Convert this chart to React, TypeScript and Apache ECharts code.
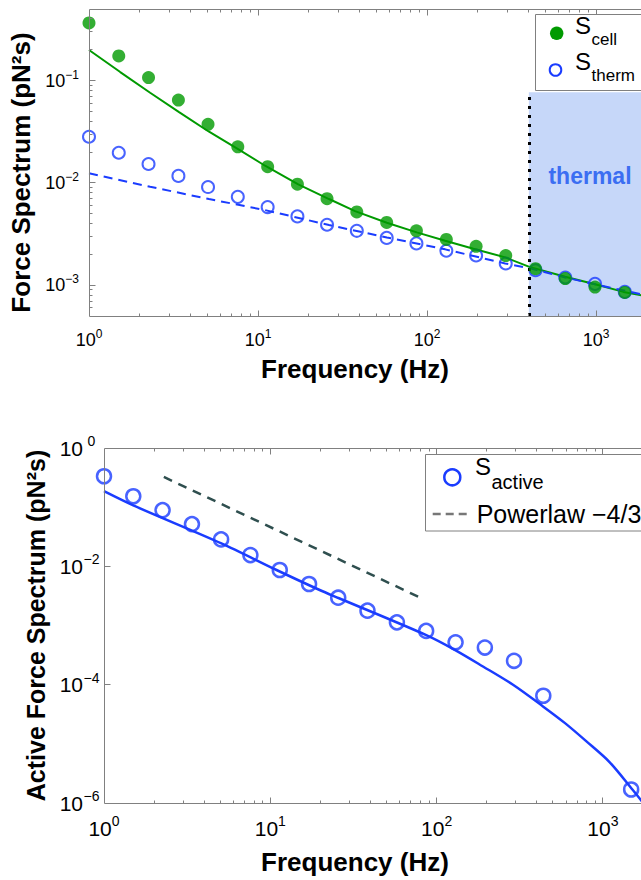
import React, { useEffect, useRef } from 'react';
import * as echarts from 'echarts';

const FONT = '"Liberation Sans", Arial, Helvetica, sans-serif';
const GREEN = '#009a00';
const BLUE = '#1a3cff';
const AXIS = '#808080';

// ---------- top panel data ----------
const freqTop = [1, 1.5, 2.25, 3.38, 5.06, 7.59, 11.4, 17.1, 25.6, 38.4, 57.7, 86.5, 130, 195, 292, 438, 657, 985, 1478];
const sCell = [0.365, 0.174, 0.107, 0.0645, 0.0373, 0.0225, 0.0144, 0.0097, 0.007, 0.0052, 0.0041, 0.0034, 0.0028, 0.0024, 0.00195, 0.00145, 0.00116, 0.00096, 0.00085];
const sTherm = [0.0282, 0.0197, 0.0153, 0.0117, 0.0091, 0.0073, 0.0058, 0.0047, 0.0039, 0.0034, 0.0029, 0.00256, 0.00217, 0.00195, 0.00163, 0.0014, 0.00119, 0.00103, 0.00086];
const fitCellFreq = [1, 1.53, 2.3, 3.41, 5.13, 7.62, 11.0, 17.3, 26.3, 37.5, 57.8, 86.9, 128, 188, 290, 403, 656, 986, 1452, 1820, 2000];
const fitCellVal = [0.199, 0.121, 0.076, 0.0492, 0.0316, 0.0214, 0.0147, 0.00966, 0.00695, 0.0053, 0.00407, 0.00328, 0.00272, 0.00227, 0.00187, 0.00151, 0.00121, 0.00102, 0.00086, 0.0008, 0.00078];
const fitThermFreq = [1, 2.3, 5.13, 11.0, 26.3, 57.8, 128, 290, 407, 656, 986, 1820, 2000];
const fitThermVal = [0.0124, 0.00916, 0.00695, 0.00542, 0.00387, 0.00293, 0.00224, 0.00163, 0.00146, 0.00119, 0.00102, 0.00082, 0.00078];
const thermalFrom = 400;
const thermalTop = 0.077;

// ---------- bottom panel data ----------
const freqActive = [1, 1.5, 2.25, 3.38, 5.06, 7.59, 11.4, 17.1, 25.6, 38.4, 57.7, 86.5, 130, 195, 292, 438, 1478];
const sActive = [0.333, 0.153, 0.089, 0.0517, 0.0285, 0.0155, 0.00867, 0.00503, 0.00295, 0.00178, 0.00113, 0.00081, 0.00052, 0.000424, 0.000253, 6.5e-5, 1.69e-6];
const fitActiveFreq = [1, 1.5, 5.08, 10.9, 19.8, 25.9, 86, 128.5, 190, 288, 436, 589, 796, 1099, 1504, 1783, 2000];
const fitActiveVal = [0.186, 0.107, 0.0244, 0.00867, 0.00398, 0.00289, 0.000694, 0.000388, 0.000203, 9.95e-5, 4.29e-5, 2.26e-5, 1.1e-5, 4.88e-6, 1.69e-6, 9.3e-7, 6e-7];
const powerFreq = [2.29, 82.8];
const powerVal = [0.324, 0.00281];

// ---------- axes ----------
const xRange = [1, 2000];
const topYRange = [5e-4, 0.5];
const botYRange = [1e-6, 1];
const xMajor = [10, 100, 1000];
const xMinor = [2, 3, 4, 5, 6, 7, 8, 9, 20, 30, 40, 50, 60, 70, 80, 90, 200, 300, 400, 500, 600, 700, 800, 900];
const topYMajor = [1e-3, 1e-2, 1e-1];
const topYMinor = [6e-4, 7e-4, 8e-4, 9e-4, 2e-3, 3e-3, 4e-3, 5e-3, 6e-3, 7e-3, 8e-3, 9e-3, 2e-2, 3e-2, 4e-2, 5e-2, 6e-2, 7e-2, 8e-2, 9e-2, 0.2, 0.3, 0.4];
const botYMajor = [1e-4, 1e-2];
const botYMinor: number[] = [];

const pairs = (xs: number[], ys: number[]) => xs.map((x, i) => [x, ys[i]]);

const supText = (e: number) => (e < 0 ? '\u2212' + Math.abs(e) : String(e));
const decadeLabel = (onlyEven: boolean) => (v: number) => {
  const l = Math.log10(v);
  const e = Math.round(l);
  if (Math.abs(l - e) > 1e-6) return '';
  if (onlyEven && e % 2 !== 0) return '';
  return `{b|10}{s|${supText(e)}}`;
};

const crisp = (v: number) => Math.round(v - 0.5) + 0.5;

const frameSeries = (idx: number, yr: number[], yMaj: number[], yMin: number[]) => ({
  type: 'custom',
  xAxisIndex: idx,
  yAxisIndex: idx,
  z: 10,
  silent: true,
  clip: false,
  data: [[10, Math.sqrt(yr[0] * yr[1])]],
  renderItem: (_p: any, api: any) => {
    const children: any[] = [];
    const st = { stroke: AXIS, lineWidth: 1 };
    const ln = (x1: number, y1: number, x2: number, y2: number) =>
      children.push({ type: 'line', shape: { x1, y1, x2, y2 }, style: st });
    const bl = api.coord([xRange[0], yr[0]]);
    const tr = api.coord([xRange[1], yr[1]]);
    const L = crisp(bl[0]), B = crisp(bl[1]), R = crisp(tr[0]), T = crisp(tr[1]);
    ln(L, B, R, B);
    ln(L, T, R, T);
    ln(L, T, L, B);
    ln(R, T, R, B);
    const xt = (v: number, len: number) => {
      const x = crisp(api.coord([v, yr[0]])[0]);
      ln(x, B, x, B - len);
      ln(x, T, x, T + len);
    };
    const yt = (v: number, len: number) => {
      const y = crisp(api.coord([xRange[0], v])[1]);
      ln(L, y, L + len, y);
    };
    xMajor.forEach((v) => xt(v, 6));
    xMinor.forEach((v) => xt(v, 3));
    yMaj.forEach((v) => yt(v, 6));
    yMin.forEach((v) => yt(v, 3));
    return { type: 'group', children };
  },
});

const richTop = {
  b: { fontSize: 18, lineHeight: 24, fontFamily: FONT, color: '#000' },
  s: { fontSize: 12, lineHeight: 12, verticalAlign: 'top', fontFamily: FONT, color: '#000' },
};
const richBot = {
  b: { fontSize: 21, lineHeight: 28, fontFamily: FONT, color: '#000' },
  s: { fontSize: 14, lineHeight: 14, verticalAlign: 'top', fontFamily: FONT, color: '#000' },
};
const richBotY = {
  b: { fontSize: 21, lineHeight: 28, fontFamily: FONT, color: '#000' },
  s: { fontSize: 14, lineHeight: 14, verticalAlign: 'top', fontFamily: FONT, color: '#000', width: 17, align: 'left' },
};

const nameStyle = (size: number, padding: number[]) => ({
  fontSize: size,
  fontWeight: 'bold',
  fontFamily: FONT,
  color: '#000',
  padding,
});

const baseAxis = {
  type: 'log',
  logBase: 10,
  axisLine: { show: false },
  axisTick: { show: false },
  minorTick: { show: false },
  splitLine: { show: false },
  nameLocation: 'middle',
};

const option: any = {
  animation: false,
  backgroundColor: '#fff',
  textStyle: { fontFamily: FONT },
  grid: [
    { left: 89, top: 9, width: 558, height: 307, outerBoundsMode: 'none', containLabel: false },
    { left: 104, top: 448, width: 549, height: 355, outerBoundsMode: 'none', containLabel: false },
  ],
  xAxis: [
    {
      ...baseAxis,
      gridIndex: 0,
      min: xRange[0],
      max: xRange[1],
      name: 'Frequency (Hz)',
      nameGap: 40,
      nameTextStyle: nameStyle(26, [0, 26, 0, 0]),
      axisLabel: { margin: 12, formatter: decadeLabel(false), rich: richTop },
    },
    {
      ...baseAxis,
      gridIndex: 1,
      min: xRange[0],
      max: xRange[1],
      name: 'Frequency (Hz)',
      nameGap: 46,
      nameTextStyle: nameStyle(26, [0, 47, 0, 0]),
      axisLabel: { margin: 11, formatter: decadeLabel(false), rich: richBot },
    },
  ],
  yAxis: [
    {
      ...baseAxis,
      gridIndex: 0,
      min: topYRange[0],
      max: topYRange[1],
      name: 'Force Spectrum (pN\u00b2s)',
      nameGap: 48,
      nameTextStyle: nameStyle(26, [0, 20, 0, 0]),
      axisLabel: { margin: 10, formatter: decadeLabel(false), rich: richTop },
    },
    {
      ...baseAxis,
      gridIndex: 1,
      min: botYRange[0],
      max: botYRange[1],
      name: 'Active Force Spectrum (pN\u00b2s)',
      nameGap: 54,
      nameTextStyle: nameStyle(25, [0, 0, 0, 0]),
      axisLabel: { margin: 4, formatter: decadeLabel(true), rich: richBotY },
    },
  ],
  series: [
    {
      name: 'S_cell fit',
      type: 'line',
      xAxisIndex: 0,
      yAxisIndex: 0,
      data: pairs(fitCellFreq, fitCellVal),
      showSymbol: false,
      symbol: 'none',
      lineStyle: { color: GREEN, width: 2 },
      z: 2,
      markArea: {
        silent: true,
        z: 1,
        itemStyle: { color: '#c6d7f9' },
        label: { show: false },
        data: [[{ xAxis: thermalFrom, yAxis: topYRange[0] }, { xAxis: xRange[1], yAxis: thermalTop }]],
      },
      markLine: {
        silent: true,
        symbol: ['none', 'none'],
        label: { show: false },
        lineStyle: { color: '#000', width: 3, type: [3, 6] },
        data: [[{ coord: [thermalFrom, topYRange[0]] }, { coord: [thermalFrom, thermalTop] }]],
      },
    },
    {
      name: 'S_therm fit',
      type: 'line',
      xAxisIndex: 0,
      yAxisIndex: 0,
      data: pairs(fitThermFreq, fitThermVal),
      showSymbol: false,
      symbol: 'none',
      lineStyle: { color: BLUE, width: 2, type: [9, 6] },
      z: 3,
    },
    {
      name: 'S_therm',
      type: 'scatter',
      xAxisIndex: 0,
      yAxisIndex: 0,
      data: pairs(freqTop, sTherm),
      symbol: 'circle',
      symbolSize: 12,
      itemStyle: { color: 'rgba(0,0,0,0)', borderColor: BLUE, borderWidth: 2 },
      z: 4,
    },
    {
      name: 'S_cell',
      type: 'scatter',
      xAxisIndex: 0,
      yAxisIndex: 0,
      data: pairs(freqTop, sCell),
      symbol: 'circle',
      symbolSize: 13,
      itemStyle: { color: GREEN },
      z: 5,
    },
    {
      name: 'S_active fit',
      type: 'line',
      xAxisIndex: 1,
      yAxisIndex: 1,
      data: pairs(fitActiveFreq, fitActiveVal),
      showSymbol: false,
      symbol: 'none',
      smooth: 0.3,
      lineStyle: { color: BLUE, width: 2.5 },
      z: 2,
    },
    {
      name: 'Powerlaw -4/3',
      type: 'line',
      xAxisIndex: 1,
      yAxisIndex: 1,
      data: pairs(powerFreq, powerVal),
      showSymbol: false,
      symbol: 'none',
      lineStyle: { color: '#2f4f4f', width: 2.5, type: [9, 7] },
      z: 3,
    },
    {
      name: 'S_active',
      type: 'scatter',
      xAxisIndex: 1,
      yAxisIndex: 1,
      data: pairs(freqActive, sActive),
      symbol: 'circle',
      symbolSize: 14,
      itemStyle: { color: 'rgba(0,0,0,0)', borderColor: BLUE, borderWidth: 2.5 },
      z: 4,
    },
    frameSeries(0, topYRange, topYMajor, topYMinor),
    frameSeries(1, botYRange, botYMajor, botYMinor),
  ],
  graphic: [
    {
      type: 'text',
      x: 590,
      y: 176,
      z: 50,
      style: { text: 'thermal', fill: '#3b6ef2', fontSize: 23, fontWeight: 'bold', fontFamily: FONT, align: 'center', verticalAlign: 'middle' },
    },
    // top legend
    { type: 'rect', z: 100, shape: { x: 535.5, y: 14.5, width: 140, height: 76 }, style: { fill: '#fff', stroke: AXIS, lineWidth: 1 } },
    { type: 'circle', z: 101, shape: { cx: 556.7, cy: 33.3, r: 6.7 }, style: { fill: GREEN } },
    { type: 'circle', z: 101, shape: { cx: 555.5, cy: 70, r: 5.8 }, style: { fill: 'rgba(0,0,0,0)', stroke: BLUE, lineWidth: 2 } },
    { type: 'text', z: 101, x: 575, y: 25, style: { text: 'S', fontSize: 24, fontFamily: FONT, fill: '#000', align: 'left', verticalAlign: 'middle' } },
    { type: 'text', z: 101, x: 591.5, y: 39, style: { text: 'cell', fontSize: 17, fontFamily: FONT, fill: '#000', align: 'left', verticalAlign: 'middle' } },
    { type: 'text', z: 101, x: 575, y: 61.6, style: { text: 'S', fontSize: 24, fontFamily: FONT, fill: '#000', align: 'left', verticalAlign: 'middle' } },
    { type: 'text', z: 101, x: 591.5, y: 75.7, style: { text: 'therm', fontSize: 17, fontFamily: FONT, fill: '#000', align: 'left', verticalAlign: 'middle' } },
    // bottom legend
    { type: 'rect', z: 100, shape: { x: 425.5, y: 454.5, width: 250, height: 76.5 }, style: { fill: '#fff', stroke: AXIS, lineWidth: 1 } },
    { type: 'circle', z: 101, shape: { cx: 452.3, cy: 477.3, r: 8 }, style: { fill: 'rgba(0,0,0,0)', stroke: BLUE, lineWidth: 2.5 } },
    { type: 'text', z: 101, x: 475, y: 466.6, style: { text: 'S', fontSize: 24, fontFamily: FONT, fill: '#000', align: 'left', verticalAlign: 'middle' } },
    { type: 'text', z: 101, x: 491.5, y: 482.3, style: { text: 'active', fontSize: 20, fontFamily: FONT, fill: '#000', align: 'left', verticalAlign: 'middle' } },
    { type: 'line', z: 101, shape: { x1: 432.7, y1: 514, x2: 471.7, y2: 514 }, style: { stroke: '#777', lineWidth: 2.5, lineDash: [8, 5] } },
    { type: 'text', z: 101, x: 476.7, y: 514, style: { text: 'Powerlaw \u22124/3', fontSize: 25, fontFamily: FONT, fill: '#000', align: 'left', verticalAlign: 'middle' } },
  ],
};

export default function App() {
  const ref = useRef<HTMLDivElement>(null);
  useEffect(() => {
    const chart = echarts.init(ref.current!, null, { renderer: 'svg' });
    chart.setOption(option);
    return () => chart.dispose();
  }, []);
  return (
    <div style={{ position: 'fixed', left: 0, top: 0, width: 641, height: 880, overflow: 'hidden', background: '#fff' }}>
      <div ref={ref} style={{ width: 641, height: 880 }} />
    </div>
  );
}
